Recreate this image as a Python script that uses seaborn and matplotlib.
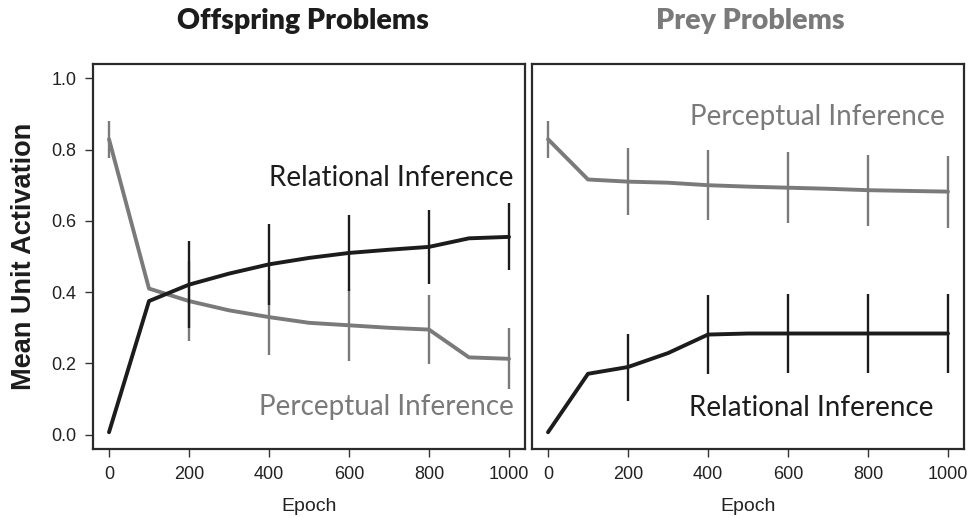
import numpy as np
import pandas as pd
import matplotlib
matplotlib.use("Agg")
import matplotlib.pyplot as plt
import seaborn as sns

# values
epochs = [0, 100, 200, 300, 400, 500, 600, 700, 800, 900, 1000]
err_epochs = [0, 200, 400, 600, 800, 1000]

off_rel = [0.007, 0.375, 0.421, 0.452, 0.478, 0.496, 0.510, 0.519, 0.527, 0.551, 0.555]
off_per = [0.829, 0.410, 0.375, 0.349, 0.330, 0.314, 0.307, 0.300, 0.295, 0.217, 0.213]
off_rel_err = [0.0, 0.122, 0.114, 0.106, 0.103, 0.094]
off_per_err = [0.052, 0.113, 0.105, 0.101, 0.097, 0.086]

prey_per = [0.829, 0.716, 0.710, 0.707, 0.700, 0.696, 0.693, 0.690, 0.686, 0.684, 0.682]
prey_rel = [0.007, 0.171, 0.190, 0.229, 0.281, 0.284, 0.284, 0.284, 0.284, 0.284, 0.284]
prey_per_err = [0.052, 0.093, 0.098, 0.099, 0.100, 0.101]
prey_rel_err = [0.0, 0.094, 0.110, 0.110, 0.110, 0.110]

sns.set_style("white")
plt.rcParams['font.family'] = ['Liberation Sans', 'DejaVu Sans']

BLACK = "#1c1c1c"
GRAY = "#7a7a7a"

fig = plt.figure(figsize=(9.76, 5.18), dpi=100)
W, H = 976, 518
ax1 = fig.add_axes([93 / W, (H - 449) / H, (525 - 93) / W, (449 - 64) / H])
ax2 = fig.add_axes([532 / W, (H - 449) / H, (964 - 532) / W, (449 - 64) / H])


def draw_panel(ax, rel, per, rel_err, per_err):
    df = pd.DataFrame({
        "Epoch": epochs * 2,
        "val": per + rel,
        "kind": ["Perceptual"] * len(epochs) + ["Relational"] * len(epochs),
    })
    idx = [epochs.index(e) for e in err_epochs]
    pv = np.array([per[i] for i in idx])
    rv = np.array([rel[i] for i in idx])
    ax.vlines(err_epochs, pv - np.array(per_err), pv + np.array(per_err),
              color=GRAY, lw=1.7, zorder=2)
    sns.lineplot(data=df[df.kind == "Perceptual"], x="Epoch", y="val", ax=ax,
                 color=GRAY, lw=2.8, zorder=3, legend=False)
    ax.vlines(err_epochs, rv - np.array(rel_err), rv + np.array(rel_err),
              color=BLACK, lw=1.7, zorder=4)
    sns.lineplot(data=df[df.kind == "Relational"], x="Epoch", y="val", ax=ax,
                 color=BLACK, lw=2.8, zorder=5, legend=False)
    ax.set_xlim(-40, 1040)
    ax.set_ylim(-0.04, 1.04)
    ax.set_xticks([0, 200, 400, 600, 800, 1000])
    ax.set_xlabel("Epoch", fontsize=14, color="#222222", labelpad=11)
    ax.set_ylabel("")
    for s in ax.spines.values():
        s.set_linewidth(1.6)
        s.set_color("#2a2a2a")
    ax.tick_params(axis="both", which="both", length=6, width=1.0,
                   color="#333333", labelsize=13, labelcolor="#222222", pad=6)
    ax.tick_params(axis="x", bottom=True)


draw_panel(ax1, off_rel, off_per, off_rel_err, off_per_err)
draw_panel(ax2, prey_rel, prey_per, prey_rel_err, prey_per_err)

ax1.set_yticks([0.0, 0.2, 0.4, 0.6, 0.8, 1.0])
ax1.set_yticklabels(["0.0", "0.2", "0.4", "0.6", "0.8", "1.0"])
ax1.tick_params(axis="y", left=True)
ax2.set_yticks([])
ax1.set_ylabel("Mean Unit Activation", fontsize=19.5, fontweight="bold",
               color=BLACK, labelpad=10)

lab = dict(fontfamily=["Lato", "DejaVu Sans"], fontsize=20, ha="right", va="center")
ax1.text(1012, 0.72, "Relational Inference", color=BLACK, **lab)
ax1.text(1012, 0.078, "Perceptual Inference", color=GRAY, **lab)
ax2.text(992, 0.89, "Perceptual Inference", color=GRAY, **lab)
ax2.text(965, 0.076, "Relational Inference", color=BLACK, **lab)

ttl = dict(fontfamily=["Lato", "DejaVu Sans"], fontsize=20.5, fontweight="heavy",
           ha="center", va="center")
fig.text(303 / W, 1 - 21 / H, "Offspring Problems", color=BLACK, **ttl)
fig.text(750 / W, 1 - 21 / H, "Prey Problems", color=GRAY, **ttl)

fig.savefig("out.png", dpi=100)
